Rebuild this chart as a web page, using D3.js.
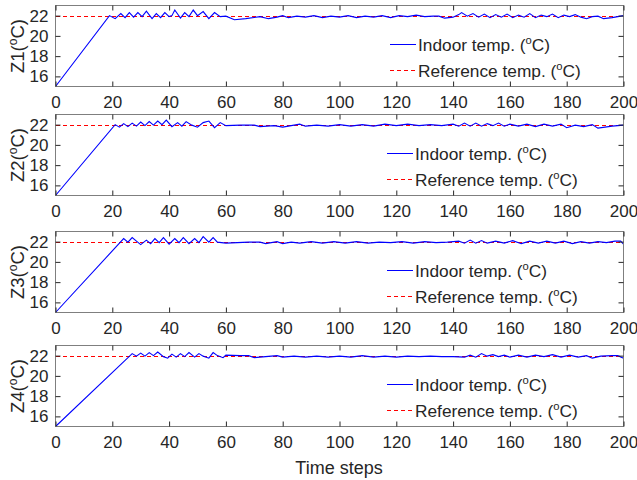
<!DOCTYPE html>
<html>
<head>
<meta charset="utf-8">
<script src="https://cdn.jsdelivr.net/npm/d3@7"></script>
<style>
  body { margin: 0; background: #fff; }
  text { font-family: Arial, "Liberation Sans", sans-serif; fill: #262626; }
</style>
</head>
<body>
<svg id="chart" width="637" height="480"></svg>
<script>
var zones = ['Z1', 'Z2', 'Z3', 'Z4'];
var xTicks = [0, 20, 40, 60, 80, 100, 120, 140, 160, 180, 200];
var yTicks = [16, 18, 20, 22];
var refTemp = 22;

// indoor temperature, vertices (time step, degC)
var z1T = [0,19,21,23,24.5,26,27.5,29,30.5,32,34,35.5,37,38.5,40,41,42,44,45.5,47,48.5,50,52,54,56,58,60,63,67,72,75,78,80,82,85,88,91,94,97,100,103,106,109,112,115,118,121,124,127,130,133,135,137,140,142,143,145,147,149,151,153,155,157,159,161,163,165,167,169,171,173,175,177,179,181,183,185,187,189,191,193,196,200];
var z1V = [15,22,21.7,22.2,21.8,22.3,21.85,22.3,21.9,22.45,21.7,22.2,21.8,22.3,21.9,22.0,22.55,21.75,22.3,21.9,22.55,22.0,22.4,21.7,22.3,21.9,21.95,21.6,21.7,21.9,21.7,21.85,22.0,21.8,21.95,21.85,22.0,21.8,21.95,21.85,22.0,21.8,21.95,21.85,22.0,21.8,22.0,21.9,22.05,21.9,21.95,21.95,21.75,21.85,22.1,22.3,21.95,22.2,21.85,22.15,21.8,22.1,21.85,22.15,21.8,22.05,21.85,22.2,21.8,22.05,21.9,22.15,21.8,22.05,21.9,22.1,21.85,21.7,21.9,21.95,21.7,21.8,22.0];

var z2T = [0,21,22.5,24,25.5,27,28.5,30,31.5,33,34.5,36,37.5,39,41,43,44.5,46,48,50,52,54,56,58,60,65,70,72,77,80,83,86,88,92,96,100,104,108,112,116,120,124,128,132,136,140,142,144,146,148,150,152,154,156,158,160,163,166,169,172,175,178,180,183,186,189,191,196,200];
var z2V = [15,22,21.75,22.1,21.8,22.15,21.85,22.25,21.9,22.3,21.95,22.35,22.0,22.45,21.8,22.2,21.85,22.3,21.95,21.75,22.2,22.35,21.7,22.2,21.9,21.95,21.95,21.8,21.9,21.75,21.9,22.05,21.85,21.95,21.85,22.0,21.85,22.0,21.85,22.05,21.9,22.05,21.9,22.0,21.9,22.05,21.85,22.15,21.85,22.15,21.85,22.1,21.9,22.15,21.85,22.05,21.85,22.05,21.8,22.05,21.85,22.05,21.7,21.95,21.8,22.0,21.65,21.85,21.95];

var z3T = [0,24,25.5,27,28.5,30,32,33.5,35,36.5,38,40,42,43.5,45,47,49,50.5,52,54,55.5,57,60,64,68,72,74,78,80,83,86,90,94,98,102,106,110,114,118,122,126,130,134,138,142,144,146,148,150,152,155,158,161,164,167,170,173,176,179,182,185,188,191,194,197,199,200];
var z3V = [15,22.3,21.95,22.4,22.05,21.7,22.15,21.8,22.3,21.9,22.4,21.75,22.3,21.9,22.4,21.8,22.3,21.9,22.5,21.95,22.4,21.95,21.85,21.9,21.95,21.95,21.8,22.0,21.8,21.95,21.85,22.0,21.85,22.0,21.85,22.0,21.85,21.95,21.9,22.0,21.85,22.0,21.9,21.95,22.05,21.85,22.15,21.85,22.1,21.85,22.05,21.85,22.1,21.8,22.05,21.85,22.05,21.85,22.05,21.8,22.0,21.85,22.0,21.9,22.05,22.05,21.75];

var z4T = [0,27,28.5,30,31.5,33,34.5,36,38,39.5,41,42.5,44,45.5,47,49,50.5,52,54,55.5,57,59,60,65,68,70,74,78,80,84,88,92,96,100,104,108,112,116,120,124,128,132,136,140,144,146,148,150,152,154,156,158,160,163,166,169,172,175,178,181,184,187,189,192,196,198,200];
var z4V = [15,22.2,21.95,22.25,21.95,22.3,22.0,22.35,21.9,21.75,22.15,21.85,22.2,21.9,22.3,21.85,22.2,21.95,21.75,22.3,22.0,21.8,22.05,22.0,22.0,21.8,21.9,22.0,21.85,21.95,21.85,21.95,21.85,21.95,21.85,22.0,21.85,21.95,21.85,21.95,21.9,21.95,21.9,21.9,21.85,22.05,21.85,22.2,21.95,22.1,21.9,22.05,21.85,22.05,21.85,22.05,21.9,22.1,21.85,22.05,21.85,22.0,21.75,21.95,22.0,22.0,21.75];

var seriesT = [z1T, z2T, z3T, z4T];
var seriesV = [z1V, z2V, z3V, z4V];

var svg = d3.select('#chart');
var left = 55.5, right = 623.5;
var panelTop = [5.5, 114.5, 231.5, 345.5];
var panelH = 81;
var axisCol = '#262626', boxCol = '#7f7f7f';
var blue = '#0000ff', red = '#ff0000';

var x = d3.scaleLinear().domain([0, 200]).range([left, right]);

function supLabel(sel, before, sup, after) {
  sel.append('tspan').text(before);
  sel.append('tspan').attr('font-size', '0.65em').attr('dy', '-0.55em').text(sup);
  sel.append('tspan').attr('dy', '0.36em').text(after);
}

zones.forEach(function(z, i) {
  var top = panelTop[i];
  var y = d3.scaleLinear().domain([15, 23]).range([top + panelH, top]);
  var g = svg.append('g');

  var clipId = 'clip' + i;
  g.append('clipPath').attr('id', clipId).append('rect')
    .attr('x', left).attr('y', top).attr('width', right - left).attr('height', panelH);

  var data = seriesT[i].map(function(t, k) { return [t, seriesV[i][k]]; });
  var line = d3.line().x(function(d) { return x(d[0]); }).y(function(d) { return y(d[1]); });

  var yr = Math.round(y(refTemp)) + 0.5;
  g.append('line')
    .attr('x1', x(0)).attr('x2', x(200)).attr('y1', yr).attr('y2', yr)
    .style('stroke', red).style('stroke-width', 1.3).style('stroke-dasharray', '4,3')
    .style('shape-rendering', 'crispEdges');

  g.append('path').datum(data)
    .attr('d', line).style('fill', 'none')
    .style('stroke', blue).style('stroke-width', 1.1)
    .attr('clip-path', 'url(#' + clipId + ')');

  // box and inward ticks
  g.append('rect').attr('x', left).attr('y', top).attr('width', right - left).attr('height', panelH)
    .style('fill', 'none').style('stroke', boxCol).style('stroke-width', 1);

  var xb = d3.axisBottom(x).tickValues(xTicks).tickSizeInner(-5).tickSizeOuter(0).tickPadding(9);
  var gx = g.append('g').attr('transform', 'translate(0,' + (top + panelH) + ')').call(xb);
  var gxt = g.append('g').attr('transform', 'translate(0,' + top + ')')
    .call(d3.axisTop(x).tickValues(xTicks).tickSizeInner(-5).tickSizeOuter(0).tickFormat(''));
  var yl = d3.axisLeft(y).tickValues(yTicks).tickSizeInner(-5).tickSizeOuter(0).tickPadding(7);
  var gy = g.append('g').attr('transform', 'translate(' + left + ',0)').call(yl);
  var gyr = g.append('g').attr('transform', 'translate(' + right + ',0)')
    .call(d3.axisRight(y).tickValues(yTicks).tickSizeInner(-5).tickSizeOuter(0).tickFormat(''));

  [gx, gxt, gy, gyr].forEach(function(a) {
    a.select('.domain').remove();
    a.selectAll('line').style('stroke', axisCol);
    a.selectAll('text').attr('font-size', 17).style('fill', axisCol)
      .style('font-family', 'Arial, "Liberation Sans", sans-serif');
  });
  gx.selectAll('text').attr('dy', '0.71em');

  // y label
  var lab = g.append('text')
    .attr('transform', 'translate(24,' + (top + panelH / 2) + ') rotate(-90)')
    .attr('text-anchor', 'middle').attr('font-size', 18.5);
  supLabel(lab, z + '(', 'o', 'C)');

  // legend
  var lx = i === 0 ? 390 : 387;
  var ly1 = Math.round(top + 38) + 0.5, ly2 = Math.round(top + 64) + 0.5;
  g.append('line').attr('x1', lx).attr('x2', lx + 26).attr('y1', ly1).attr('y2', ly1)
    .style('stroke', blue).style('stroke-width', 1.2).style('shape-rendering', 'crispEdges');
  g.append('line').attr('x1', lx).attr('x2', lx + 26).attr('y1', ly2).attr('y2', ly2)
    .style('stroke', red).style('stroke-width', 1.2).style('stroke-dasharray', '4,3')
    .style('shape-rendering', 'crispEdges');
  var t1 = g.append('text').attr('x', lx + 28).attr('y', ly1 + 6).attr('font-size', 17.3);
  supLabel(t1, 'Indoor temp. (', 'o', 'C)');
  var t2 = g.append('text').attr('x', lx + 28).attr('y', ly2 + 6).attr('font-size', 17.3);
  supLabel(t2, 'Reference temp. (', 'o', 'C)');
});

svg.append('text').attr('x', 339).attr('y', 474).attr('text-anchor', 'middle')
  .attr('font-size', 18).text('Time steps');
</script>
</body>
</html>
